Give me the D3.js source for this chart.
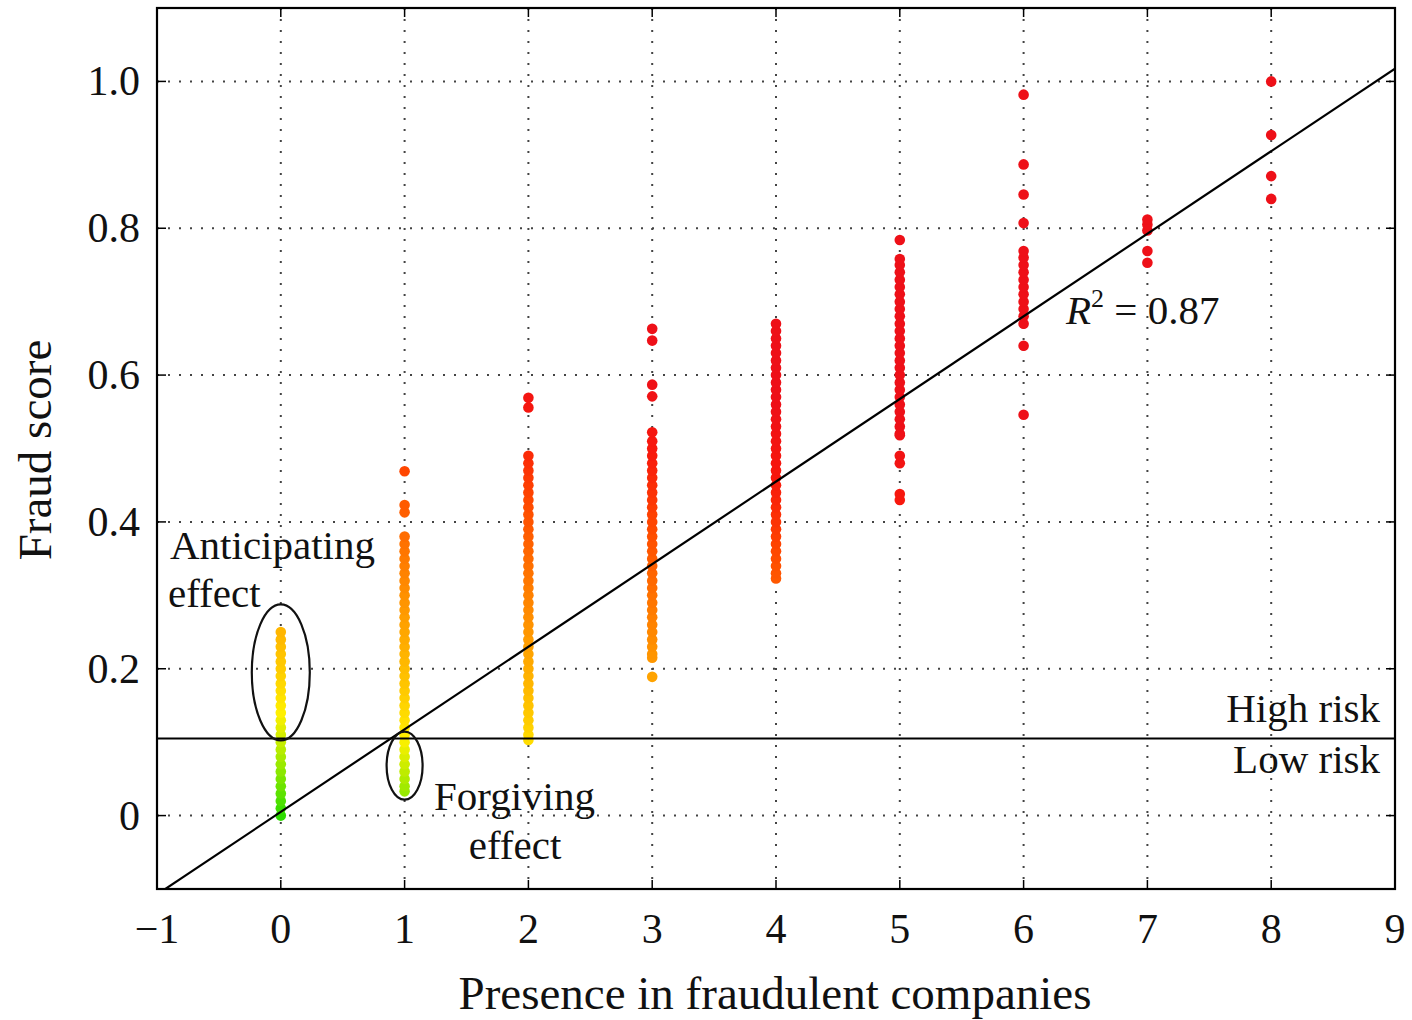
<!DOCTYPE html>
<html>
<head>
<meta charset="utf-8">
<script src="https://cdn.jsdelivr.net/npm/d3@7"></script>
<style>
  html, body { margin: 0; padding: 0; background: #fff; }
  svg { display: block; }
  text { font-family: "Liberation Serif", "DejaVu Serif", serif; fill: #111; }
</style>
</head>
<body>
<svg id="chart" width="1412" height="1020"></svg>
<script>
// ---- data ----
const xTicks = [-1, 0, 1, 2, 3, 4, 5, 6, 7, 8, 9];
const yTicks = [0, 0.2, 0.4, 0.6, 0.8, 1.0];
const yTickLabels = ["0", "0.2", "0.4", "0.6", "0.8", "1.0"];

const presence0 = [0.00,0.01,0.02,0.03,0.04,0.05,0.06,0.07,0.08,0.09,0.10,0.11,0.12,0.13,0.14,0.15,0.16,0.17,0.18,0.19,0.20,0.21,0.22,0.23,0.24,0.25];
const presence1 = [0.033,0.04,0.05,0.06,0.07,0.08,0.09,0.10,0.11,0.12,0.13,0.14,0.15,0.16,0.17,0.18,0.19,0.20,0.21,0.22,0.23,0.24,0.25,0.26,0.27,0.28,0.29,0.30,0.31,0.32,0.33,0.34,0.35,0.36,0.37,0.38,0.413,0.423,0.469];
const presence2 = [0.103,0.11,0.12,0.13,0.14,0.15,0.16,0.17,0.18,0.19,0.20,0.21,0.22,0.23,0.24,0.25,0.26,0.27,0.28,0.29,0.30,0.31,0.32,0.33,0.34,0.35,0.36,0.37,0.38,0.39,0.40,0.41,0.42,0.43,0.44,0.45,0.46,0.47,0.48,0.49,0.556,0.569];
const presence3 = [0.189,0.215,0.22,0.23,0.24,0.25,0.26,0.27,0.28,0.29,0.30,0.31,0.32,0.33,0.34,0.35,0.36,0.37,0.38,0.39,0.40,0.41,0.42,0.43,0.44,0.45,0.46,0.47,0.48,0.49,0.50,0.51,0.522,0.571,0.587,0.647,0.663];
const presence4 = [0.323,0.33,0.34,0.35,0.36,0.37,0.38,0.39,0.40,0.41,0.42,0.43,0.44,0.45,0.46,0.47,0.48,0.49,0.50,0.51,0.52,0.53,0.54,0.55,0.56,0.57,0.58,0.59,0.60,0.61,0.62,0.63,0.64,0.65,0.66,0.67];
const presence5 = [0.43,0.438,0.48,0.49,0.518,0.52,0.53,0.54,0.55,0.56,0.57,0.58,0.59,0.60,0.61,0.62,0.63,0.64,0.65,0.66,0.67,0.68,0.69,0.70,0.71,0.72,0.73,0.74,0.75,0.758,0.784];
const presence6 = [0.546,0.64,0.67,0.68,0.69,0.70,0.71,0.72,0.73,0.74,0.75,0.76,0.769,0.807,0.846,0.887,0.982];
const presence7 = [0.753,0.769,0.797,0.805,0.812];
const presence8 = [0.840,0.871,0.927,1.0];
const columns = [presence0, presence1, presence2, presence3, presence4, presence5, presence6, presence7, presence8];

const fitSlope = 0.1125, fitIntercept = 0.005;
const riskThreshold = 0.105;

// ---- layout ----
const svg = d3.select("#chart");
const L = 157, R = 1395, T = 8, B = 889;
const x = d3.scaleLinear().domain([-1, 9]).range([L, R]);
const y = d3.scaleLinear().domain([-0.1, 1.1]).range([B, T]);

const color = d3.scaleLinear()
  .domain([0, 0.07, 0.14, 0.2, 0.3, 0.4, 0.5, 0.6, 0.7])
  .range(["#2edc00", "#9aea00", "#fff000", "#ffcc00", "#ffa000", "#ff7400", "#ff4800", "#f8180c", "#ee1018"])
  .clamp(true);

svg.append("defs").append("clipPath").attr("id", "plotclip")
  .append("rect").attr("x", L).attr("y", T).attr("width", R - L).attr("height", B - T);

// grid
const grid = svg.append("g").attr("stroke", "#444").attr("stroke-width", 2).attr("stroke-dasharray", "2,9");
xTicks.filter(v => v > -1 && v < 9).forEach(v => {
  grid.append("line").attr("x1", x(v)).attr("x2", x(v)).attr("y1", T).attr("y2", B);
});
yTicks.forEach(v => {
  grid.append("line").attr("x1", L).attr("x2", R).attr("y1", y(v)).attr("y2", y(v));
});

// points
const pts = svg.append("g").attr("clip-path", "url(#plotclip)");
columns.forEach((col, i) => {
  pts.selectAll(null).data(col).enter().append("circle")
    .attr("cx", x(i)).attr("cy", d => y(d)).attr("r", 5.3)
    .attr("fill", d => color(d + 0.035 * i));
});

// regression line
svg.append("line").attr("clip-path", "url(#plotclip)")
  .attr("x1", x(-1)).attr("y1", y(fitIntercept - fitSlope))
  .attr("x2", x(9)).attr("y2", y(fitIntercept + 9 * fitSlope))
  .attr("stroke", "#000").attr("stroke-width", 2.2);

// risk threshold
svg.append("line").attr("x1", L).attr("x2", R).attr("y1", y(riskThreshold)).attr("y2", y(riskThreshold))
  .attr("stroke", "#000").attr("stroke-width", 2);

// ellipses
svg.append("ellipse").attr("cx", x(0)).attr("cy", y(0.195)).attr("rx", 29).attr("ry", 68)
  .attr("fill", "none").attr("stroke", "#111").attr("stroke-width", 2.2);
svg.append("ellipse").attr("cx", x(1)).attr("cy", y(0.068)).attr("rx", 18).attr("ry", 34)
  .attr("fill", "none").attr("stroke", "#111").attr("stroke-width", 2.2);

// ticks (inward, mirrored)
const tk = svg.append("g").attr("stroke", "#000").attr("stroke-width", 1.5);
xTicks.forEach(v => {
  tk.append("line").attr("x1", x(v)).attr("x2", x(v)).attr("y1", B).attr("y2", B - 9);
  tk.append("line").attr("x1", x(v)).attr("x2", x(v)).attr("y1", T).attr("y2", T + 9);
});
yTicks.forEach(v => {
  tk.append("line").attr("x1", L).attr("x2", L + 9).attr("y1", y(v)).attr("y2", y(v));
  tk.append("line").attr("x1", R).attr("x2", R - 9).attr("y1", y(v)).attr("y2", y(v));
});

// frame
svg.append("rect").attr("x", L).attr("y", T).attr("width", R - L).attr("height", B - T)
  .attr("fill", "none").attr("stroke", "#000").attr("stroke-width", 2.2);

// tick labels
const fs = 42;
xTicks.forEach(v => {
  svg.append("text").attr("x", x(v)).attr("y", 943).attr("text-anchor", "middle")
    .attr("font-size", fs).text(v < 0 ? "\u2212" + Math.abs(v) : String(v));
});
yTicks.forEach((v, i) => {
  svg.append("text").attr("x", 140).attr("y", y(v) + 14).attr("text-anchor", "end")
    .attr("font-size", fs).text(yTickLabels[i]);
});

// axis titles
svg.append("text").attr("x", 775).attr("y", 1009).attr("text-anchor", "middle")
  .attr("font-size", 47).text("Presence in fraudulent companies");
svg.append("text").attr("transform", "translate(51,450) rotate(-90)").attr("text-anchor", "middle")
  .attr("font-size", 47).text("Fraud score");

// annotations
const fa = 41;
svg.append("text").attr("x", 170).attr("y", 559).attr("font-size", fa).text("Anticipating");
svg.append("text").attr("x", 168).attr("y", 607).attr("font-size", fa).text("effect");
svg.append("text").attr("x", 434).attr("y", 810).attr("font-size", fa).text("Forgiving");
svg.append("text").attr("x", 515).attr("y", 859).attr("text-anchor", "middle").attr("font-size", fa).text("effect");
svg.append("text").attr("x", 1380).attr("y", 722).attr("text-anchor", "end").attr("font-size", fa).text("High risk");
svg.append("text").attr("x", 1380).attr("y", 773).attr("text-anchor", "end").attr("font-size", fa).text("Low risk");

const r2 = svg.append("text").attr("x", 1066).attr("y", 324).attr("font-size", fa);
r2.append("tspan").attr("font-style", "italic").text("R");
r2.append("tspan").attr("font-size", 26).attr("dy", -17).text("2");
r2.append("tspan").attr("dy", 17).text(" = 0.87");
</script>
</body>
</html>
